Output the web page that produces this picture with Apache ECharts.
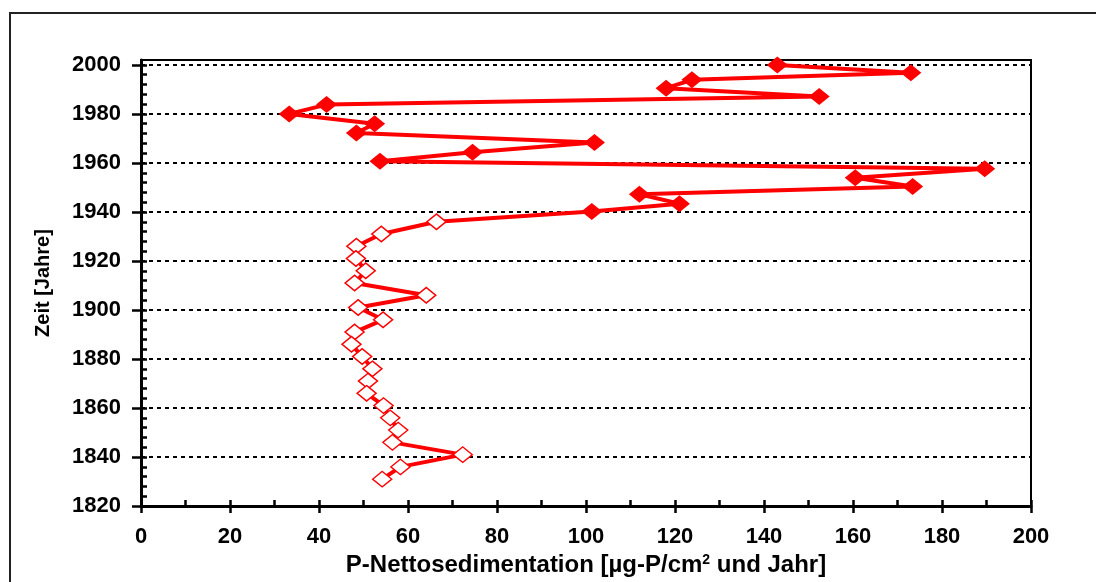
<!DOCTYPE html>
<html><head><meta charset="utf-8">
<script src="https://cdn.jsdelivr.net/npm/echarts@6/dist/echarts.min.js"></script>
<style>html,body{margin:0;padding:0;background:#fff}#c{width:1096px;height:582px}</style>
</head><body><div id="c"></div>
<script>
// Recent period (filled diamonds)
const recentYears  = [2000, 1996.8, 1993.9, 1990.5, 1987.1, 1983.8, 1980, 1976, 1972.2, 1968.3, 1964.4, 1960.7, 1957.6, 1954, 1950.4, 1947.2, 1943.4, 1940.2];
const recentValues = [143, 173, 123.8, 118, 152.4, 41.7, 33.3, 52.5, 48.4, 101.9, 74.5, 53.7, 189.6, 160.5, 173.4, 112, 121, 101.3];
// Older period (open diamonds)
const olderYears  = [1936, 1931, 1926, 1921, 1916, 1911, 1906, 1901, 1896, 1891, 1886, 1881, 1876, 1871, 1866, 1861, 1856, 1851, 1846, 1841, 1836, 1831];
const olderValues = [66.4, 54.0, 48.4, 48.3, 50.5, 48.0, 64.1, 48.8, 54.4, 48.0, 47.3, 49.7, 52.0, 51.0, 50.7, 54.5, 56.0, 57.8, 56.5, 72.3, 58.3, 54.2];
// Tick labels / tick positions
const yMajorTicks = [1820, 1840, 1860, 1880, 1900, 1920, 1940, 1960, 1980, 2000];
const yMinorTicks = [1820, 1824, 1828, 1832, 1836, 1840, 1844, 1848, 1852, 1856, 1860, 1864, 1868, 1872, 1876, 1880, 1884, 1888, 1892, 1896, 1900, 1904, 1908, 1912, 1916, 1920, 1924, 1928, 1932, 1936, 1940, 1944, 1948, 1952, 1956, 1960, 1964, 1968, 1972, 1976, 1980, 1984, 1988, 1992, 1996, 2000];
const xMinorTicks = [0, 10, 20, 30, 40, 50, 60, 70, 80, 90, 100, 110, 120, 130, 140, 150, 160, 170, 180, 190, 200];
const xTitle = 'P-Nettosedimentation [µg-P/cm{sup|2} und Jahr]';
const yTitle = 'Zeit [Jahre]';

const recentPts = recentValues.map((v, i) => [v, recentYears[i]]);
const olderPts = olderValues.map((v, i) => [v, olderYears[i]]);
const allPts = recentPts.concat(olderPts);

const FONT = '"Liberation Sans", Arial, sans-serif';
const chart = echarts.init(document.getElementById('c'), null, {renderer: 'canvas'});
chart.setOption({
  animation: false,
  backgroundColor: '#fff',
  graphic: [{
    type: 'rect', silent: true, z: -10,
    shape: {x: 10, y: 13, width: 1100, height: 600},
    style: {fill: 'none', stroke: '#222', lineWidth: 2}
  }],
  grid: {left: 141, right: 65, top: 60, bottom: 75, show: true, borderColor: '#000', borderWidth: 2, backgroundColor: 'transparent'},
  xAxis: [{
    type: 'value', min: 0, max: 200, interval: 20, position: 'bottom',
    axisLine: {onZero: false, lineStyle: {color: '#000', width: 3}},
    axisTick: {show: true, inside: false, length: 7, lineStyle: {color: '#000', width: 2.5}},
    axisLabel: {margin: 20, color: '#000', fontFamily: FONT, fontWeight: 'bold', fontSize: 22, formatter: v => String(v)},
    splitLine: {show: false},
    name: xTitle, nameLocation: 'middle', nameGap: 43,
    nameTextStyle: {color: '#000', fontFamily: FONT, fontWeight: 'bold', fontSize: 24,
      rich: {sup: {fontFamily: FONT, fontWeight: 'bold', fontSize: 14, color: '#000', verticalAlign: 'top', padding: [0, 0, 10, 0]}}}
  }, {
    type: 'value', min: 0, max: 200, position: 'bottom',
    axisLine: {show: false, onZero: false},
    axisTick: {show: true, inside: true, length: 6, customValues: xMinorTicks, lineStyle: {color: '#000', width: 2.5}},
    axisLabel: {show: false},
    splitLine: {show: false}
  }],
  yAxis: [{
    type: 'value', min: 1820, max: 2002, interval: 20, position: 'left',
    axisLine: {onZero: false, lineStyle: {color: '#000', width: 3}},
    axisTick: {show: true, inside: false, length: 9, customValues: yMajorTicks, lineStyle: {color: '#000', width: 2.5}},
    axisLabel: {margin: 20, customValues: yMajorTicks, color: '#000', fontFamily: FONT, fontWeight: 'bold', fontSize: 22, formatter: v => String(v)},
    splitLine: {show: true, lineStyle: {color: '#000', width: 2, type: [4, 4]}},
    name: yTitle, nameLocation: 'middle', nameGap: 88, nameRotate: 90,
    nameTextStyle: {color: '#000', fontFamily: FONT, fontWeight: 'bold', fontSize: 20}
  }, {
    type: 'value', min: 1820, max: 2002, position: 'left',
    axisLine: {show: false, onZero: false},
    axisTick: {show: true, inside: true, length: 6, customValues: yMinorTicks, lineStyle: {color: '#000', width: 2.5}},
    axisLabel: {show: false},
    splitLine: {show: false}
  }],
  series: [{
    type: 'line', xAxisIndex: 0, yAxisIndex: 0, data: allPts,
    symbol: 'none', lineStyle: {color: '#ff0000', width: 4}, z: 2
  }, {
    type: 'scatter', xAxisIndex: 0, yAxisIndex: 0, data: recentPts,
    symbol: 'diamond', symbolSize: [21, 17], itemStyle: {color: '#ff0000', opacity: 1}, z: 3
  }, {
    type: 'scatter', xAxisIndex: 0, yAxisIndex: 0, data: olderPts,
    symbol: 'diamond', symbolSize: [19, 15.5], itemStyle: {color: '#ffffff', borderColor: '#ff0000', borderWidth: 1.5, opacity: 1}, z: 3
  }]
});
</script>
</body></html>
